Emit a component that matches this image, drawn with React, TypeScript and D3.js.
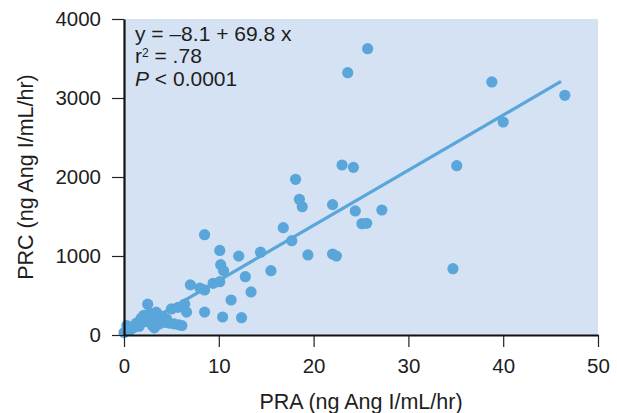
import React, { useRef, useEffect } from 'react';
import * as d3 from 'd3';

// PRA (x) and PRC (y) pairs
const praValues = [
  0.0, 0.3, 0.6, 1.0, 1.3, 1.6, 1.8, 2.1, 2.3, 2.5, 2.7, 2.9, 3.0, 3.2, 3.4, 3.5, 3.7, 3.9,
  4.1, 4.3, 4.5, 4.8, 5.0, 5.3, 5.7, 5.8, 6.1, 6.4, 6.6,
  7.0, 8.0, 8.5, 8.5, 8.5, 9.4, 10.1, 10.1, 10.2, 10.4, 10.5, 11.3, 12.1, 12.4, 12.8, 13.4, 14.4,
  15.5, 16.8, 17.7, 18.1, 18.5, 18.8, 19.4, 22.0, 22.0, 22.4, 23.0, 23.6, 24.2, 24.4, 25.1, 25.6,
  25.7, 27.2, 34.7, 35.1, 38.8, 40.0, 46.5,
];
const prcValues = [
  30, 120, 60, 90, 150, 110, 210, 250, 170, 390, 270, 220, 120, 90, 290, 180, 140, 240,
  230, 160, 200, 150, 330, 140, 350, 130, 120, 390, 290,
  635, 595, 570, 1270, 290, 654, 675, 1070, 890, 228, 815, 443, 998, 219, 738, 545, 1048,
  814, 1358, 1194, 1971, 1718, 1624, 1013, 1650, 1025, 1000, 2152, 3320, 2122, 1570, 1409, 1414,
  3624, 1582, 839, 2143, 3203, 2696, 3034,
];

const xTicks = [0, 10, 20, 30, 40, 50];
const yTicks = [0, 1000, 2000, 3000, 4000];

// y = -8.1 + 69.8 x
const intercept = -8.1;
const slope = 69.8;
const fitRange = [0, 46.1];

const W = 617;
const H = 413;
const margin = { top: 19, right: 19, bottom: 78, left: 124 };
const FONT = '"Liberation Sans", Arial, Helvetica, sans-serif';
const BLUE = '#5aa6db';
const INK = '#1e1e1e';

const App = () => {
  const svgRef = useRef<SVGSVGElement>(null);

  useEffect(() => {
    if (!svgRef.current) return;
    const root = d3.select(svgRef.current);
    root.selectAll('*').remove();

    const x = d3.scaleLinear().domain([0, 50]).range([margin.left, W - margin.right]);
    const y = d3.scaleLinear().domain([0, 4000]).range([H - margin.bottom, margin.top]);

    // plot background
    root.append('rect')
      .attr('x', x(0))
      .attr('y', y(4000))
      .attr('width', x(50) - x(0))
      .attr('height', y(0) - y(4000))
      .attr('fill', '#d5e2f3');

    // regression line
    const line = d3.line<number>()
      .x(d => x(d))
      .y(d => y(intercept + slope * d));
    root.append('path')
      .datum(fitRange)
      .attr('d', line)
      .attr('fill', 'none')
      .attr('stroke', BLUE)
      .attr('stroke-width', 3.2);

    // points
    const pts = praValues.map((v, i) => [v, prcValues[i]]);
    root.append('g')
      .selectAll('circle')
      .data(pts)
      .enter()
      .append('circle')
      .attr('cx', d => x(d[0]))
      .attr('cy', d => y(d[1]))
      .attr('r', 5.6)
      .attr('fill', BLUE);

    // axes
    const xAxis = root.append('g')
      .attr('transform', `translate(0,${y(0)})`)
      .call(d3.axisBottom(x).tickValues(xTicks).tickFormat(d3.format('d')).tickSize(12).tickSizeOuter(0).tickPadding(11));
    xAxis.select('.domain').attr('stroke', '#111').attr('stroke-width', 2.2);
    xAxis.selectAll('line').attr('stroke', '#222').attr('stroke-width', 1.2);
    xAxis.selectAll('text')
      .attr('font-family', FONT)
      .attr('font-size', 20.5)
      .attr('fill', INK);

    const yAxis = root.append('g')
      .attr('transform', `translate(${x(0)},0)`)
      .call(d3.axisLeft(y).tickValues(yTicks).tickFormat(d3.format('d')).tickSize(12).tickSizeOuter(0).tickPadding(11));
    yAxis.select('.domain').attr('stroke', '#111').attr('stroke-width', 2.2);
    yAxis.selectAll('line').attr('stroke', '#222').attr('stroke-width', 1.2);
    yAxis.selectAll('text')
      .attr('font-family', FONT)
      .attr('font-size', 20.5)
      .attr('fill', INK);

    // axis titles
    root.append('text')
      .attr('x', (x(0) + x(50)) / 2)
      .attr('y', 409)
      .attr('text-anchor', 'middle')
      .attr('font-family', FONT)
      .attr('font-size', 21.5)
      .attr('fill', INK)
      .text('PRA (ng Ang I/mL/hr)');

    root.append('text')
      .attr('transform', `translate(33,${(y(0) + y(4000)) / 2}) rotate(-90)`)
      .attr('text-anchor', 'middle')
      .attr('font-family', FONT)
      .attr('font-size', 21.5)
      .attr('fill', INK)
      .text('PRC (ng Ang I/mL/hr)');

    // fit annotation
    const note = root.append('g')
      .attr('font-family', FONT)
      .attr('font-size', 21)
      .attr('fill', INK);
    note.append('text').attr('x', 135).attr('y', 41).text('y = \u20138.1 + 69.8 x');
    const r2 = note.append('text').attr('x', 135).attr('y', 63);
    r2.append('tspan').text('r');
    r2.append('tspan').attr('font-size', 12).attr('dy', -6).text('2');
    r2.append('tspan').attr('dy', 6).text(' = .78');
    const p = note.append('text').attr('x', 135).attr('y', 86);
    p.append('tspan').attr('font-style', 'italic').text('P');
    p.append('tspan').text(' < 0.0001');
  }, []);

  return (
    <svg
      ref={svgRef}
      width={W}
      height={H}
      style={{ position: 'absolute', left: 0, top: 0, background: '#fff' }}
    />
  );
};

export default App;
